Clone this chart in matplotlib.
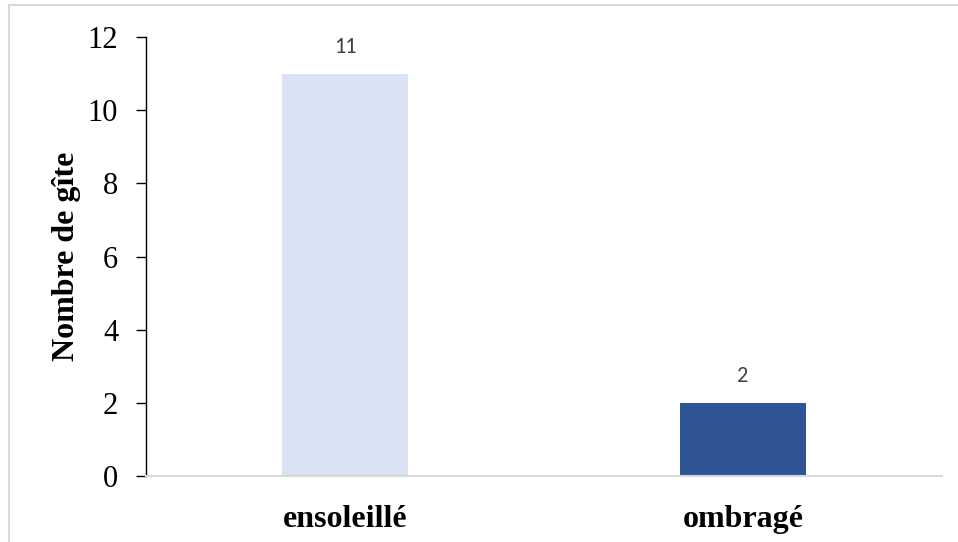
import matplotlib.pyplot as plt
from matplotlib.patches import Rectangle

categories = ['ensoleillé', 'ombragé']
counts = [11, 2]
bar_colors = ['#dae3f3', '#2f5597']

fig = plt.figure(figsize=(9.58, 5.42), dpi=100)
ax = fig.add_axes([0.1524, 0.1218, 0.8309, 0.8099])

# chart area border (light gray, runs off the right/bottom edges)
fig.patches.append(Rectangle((9 / 958, -0.1), 1.2, 1 - 5 / 542 + 0.1,
                             transform=fig.transFigure, fill=False,
                             edgecolor='#d9d9d9', linewidth=1.5))

x = range(len(categories))
bars = ax.bar(x, counts, width=0.315, color=bar_colors)
for b, v in zip(bars, counts):
    ax.annotate(str(v), (b.get_x() + b.get_width() / 2, v),
                xytext=(0, 12), textcoords='offset points', ha='center',
                va='bottom', fontsize=16, color='#404040', family='Carlito')

ax.set_xlim(-0.5, 1.5)
ax.set_ylim(0, 12)
ax.set_yticks(range(0, 13, 2))
ax.set_xticks(list(x))
ax.set_xticklabels(categories, family='Liberation Serif', fontsize=23,
                   fontweight='bold')
for lab in ax.get_yticklabels():
    lab.set_family('Liberation Serif')
    lab.set_fontsize(22)
ax.tick_params(axis='y', direction='out', length=7, width=1, pad=13)
ax.tick_params(axis='x', length=0, pad=21)

ax.spines['top'].set_visible(False)
ax.spines['right'].set_visible(False)
ax.spines['bottom'].set_color('#d9d9d9')
ax.spines['bottom'].set_linewidth(1.5)
ax.spines['left'].set_linewidth(1)

ax.set_ylabel('Nombre de gîte', family='Liberation Serif', fontsize=23,
              fontweight='bold', labelpad=5)

fig.savefig('out.png', dpi=100)
